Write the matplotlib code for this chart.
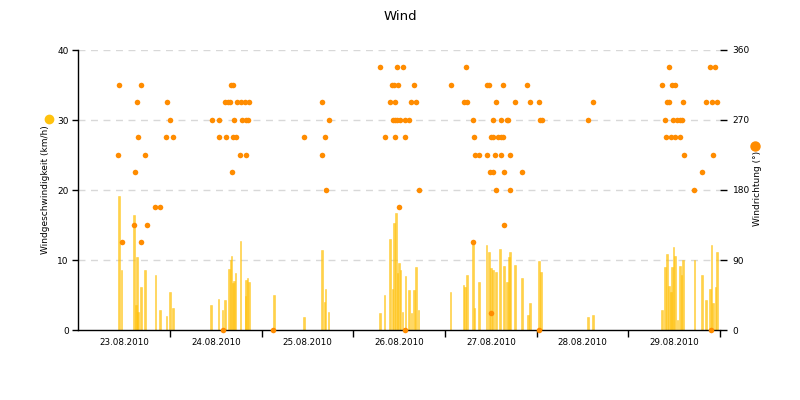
import matplotlib
matplotlib.use("Agg")
import matplotlib.pyplot as plt
from matplotlib.lines import Line2D

# ---- data (hours since 23.08.2010 00:00) ----
speed_hours = [10.6, 11.3, 14.65, 15.0, 15.28, 15.7, 16.33, 17.38, 20.16, 21.32, 23.05, 24.02, 24.81,
               34.78, 36.7, 37.75, 38.38, 39.43, 39.85, 40.11, 40.56, 40.82, 41.16, 42.47, 43.79, 43.97, 44.31, 44.68,
               51.14, 59.01, 63.74, 64.44, 64.71, 65.49,
               78.88, 80.12, 81.51, 82.22, 82.64, 83.08, 83.53, 83.95, 84.32, 84.84, 85.63, 86.57, 87.2, 87.89, 88.33, 89.04,
               97.44, 100.85, 101.27, 101.72, 103.29, 103.74, 104.87, 106.89, 107.42, 108.1, 108.47, 109.33, 110.46,
               111.35, 112.3, 112.67, 113.01, 114.24, 116.08, 117.65, 118.18, 120.54, 121.14,
               133.48, 134.79,
               152.72, 153.51, 154.14, 154.67, 155.09, 155.45, 155.79, 156.24, 156.84, 157.55, 157.89, 158.34,
               161.31, 163.33, 164.27, 165.43, 165.77, 166.22, 166.82, 167.16]
speed_kmh = [19.2, 8.6, 16.4, 3.6, 10.4, 2.6, 6.1, 8.6, 7.9, 2.9, 2.0, 5.4, 3.1,
             3.6, 4.5, 2.8, 4.3, 8.7, 10.0, 10.6, 6.7, 7.0, 8.1, 12.7, 4.8, 7.1, 7.5, 6.9,
             5.0, 1.8, 11.5, 4.0, 5.8, 2.6,
             2.5, 5.0, 13.0, 5.8, 15.3, 16.7, 8.1, 9.6, 8.6, 2.6, 7.7, 5.7, 2.5, 5.7, 9.0, 2.9,
             5.4, 6.4, 6.2, 7.9, 12.7, 3.2, 6.8, 12.1, 11.1, 8.8, 8.6, 8.3, 11.6,
             9.1, 6.9, 10.4, 11.2, 9.3, 7.5, 2.1, 3.9, 9.8, 8.3,
             1.8, 2.1,
             2.9, 9.0, 10.8, 6.3, 5.5, 9.0, 11.8, 10.6, 1.4, 9.2, 7.9, 10.0,
             10.0, 7.9, 4.3, 5.9, 12.2, 3.9, 6.2, 11.2]

dir_hours = [78.88, 83.53, 84.92, 101.38, 154.67, 165.32, 166.82,
             10.71, 16.33, 40.03, 40.48, 82.22, 82.64, 83.79, 87.89, 97.44, 107.05, 107.49, 111.09, 117.55,
             152.72, 155.45, 156.14,
             15.36, 23.23, 38.27, 39.17, 39.77, 41.53, 42.58, 43.71, 44.76, 63.84, 81.59, 82.82, 87.2, 88.41,
             100.85, 101.72, 109.41, 114.32, 118.26, 120.62, 134.79, 154.22, 154.56, 158.34, 164.27, 165.95, 167.16,
             24.02, 34.86, 36.88, 40.74, 42.74, 43.89, 44.42, 65.57, 82.37, 82.82, 83.34, 84.21, 85.63, 86.57,
             103.37, 108.62, 110.64, 112.14, 112.56, 120.88, 121.41, 133.48, 153.62, 155.61, 156.84, 157.55, 158.08,
             15.7, 23.05, 24.89, 36.7, 38.54, 40.37, 41.34, 59.01, 64.52, 80.19, 82.9, 85.63, 103.64, 108.1,
             108.62, 109.94, 110.57, 111.25, 153.96, 155.19, 156.32, 157.45,
             10.45, 17.38, 42.32, 43.97, 63.74, 103.82, 104.95, 106.89, 109.07, 110.72, 113.09, 158.5, 166.22,
             14.75, 40.22, 107.84, 108.47, 111.43, 116.16, 163.33,
             64.79, 89.12, 109.25, 113.01, 161.31,
             20.16, 21.39, 83.87,
             14.49, 17.9, 111.51,
             11.34, 16.49, 103.29,
             108.02,
             37.85, 51.06, 85.44, 120.62, 165.77]
dir_deg = ([337.5] * 7 + [315] * 16 + [292.5] * 27 + [270] * 27 + [247.5] * 22 + [225] * 13
           + [202.5] * 7 + [180] * 5 + [157.5] * 3 + [135] * 3 + [112.5] * 3 + [22.5] * 1 + [0] * 5)

date_labels = ['23.08.2010', '24.08.2010', '25.08.2010', '26.08.2010',
               '27.08.2010', '28.08.2010', '29.08.2010']

title = 'Wind'
left_label = 'Windgeschwindigkeit (km/h)'
right_label = 'Windrichtung (°)'

speed_color = '#FFC20E'
dir_color = '#FF8C00'

plt.rcParams['font.family'] = ['DejaVu Sans']
fig = plt.figure(figsize=(8, 4), dpi=100)
ax = fig.add_axes([0.098, 0.175, 0.802, 0.70])

ax.bar(speed_hours, speed_kmh, width=0.45, color=speed_color, alpha=0.75,
       edgecolor=speed_color, linewidth=0.4, zorder=2)
ax.set_xlim(0, 168)
ax.set_ylim(0, 40)
ax.set_yticks([0, 10, 20, 30, 40])
for v in [10, 20, 30, 40]:
    ax.axhline(v, color='#d8d8d8', linewidth=1, dashes=(5, 4), zorder=0)

ax.set_xticks([24 * i for i in range(1, 8)])
ax.set_xticklabels([])
ax.set_xticks([12 + 24 * i for i in range(7)], minor=True)
ax.set_xticklabels(date_labels, minor=True)
ax.tick_params(axis='x', which='major', length=5, width=1, direction='out', color='black')
ax.tick_params(axis='x', which='minor', length=0, pad=6, labelsize=6.3)
ax.tick_params(axis='y', length=4, width=1, labelsize=6.5, pad=3)
for s in ['top', 'right']:
    ax.spines[s].set_visible(False)
ax.spines['left'].set_linewidth(1)
ax.spines['bottom'].set_linewidth(1)
ax.spines['bottom'].set_zorder(3)

ax2 = ax.twinx()
ax2.scatter(dir_hours, dir_deg, s=16, color=dir_color, zorder=4, clip_on=False, linewidths=0)
ax2.set_ylim(0, 360)
ax2.set_xlim(0, 168)
ax2.set_yticks([0, 90, 180, 270, 360])
ax2.tick_params(axis='y', length=5, width=1, labelsize=6.5, pad=4)
for s in ['top', 'left', 'bottom', 'right']:
    ax2.spines[s].set_visible(False)

fig.text(0.5, 0.96, title, ha='center', va='center', fontsize=9.5)
fig.text(0.0575, 0.525, left_label, rotation=90, ha='center', va='center', fontsize=6.5)
fig.text(0.947, 0.53, right_label, rotation=90, ha='center', va='center', fontsize=6.5)
fig.add_artist(Line2D([49 / 800], [1 - 119 / 400], marker='o', markersize=6, color=speed_color,
                      linestyle='none', transform=fig.transFigure))
fig.add_artist(Line2D([755 / 800], [1 - 146 / 400], marker='o', markersize=6.5, color=dir_color,
                      linestyle='none', transform=fig.transFigure))

fig.savefig('out.png', dpi=100)
